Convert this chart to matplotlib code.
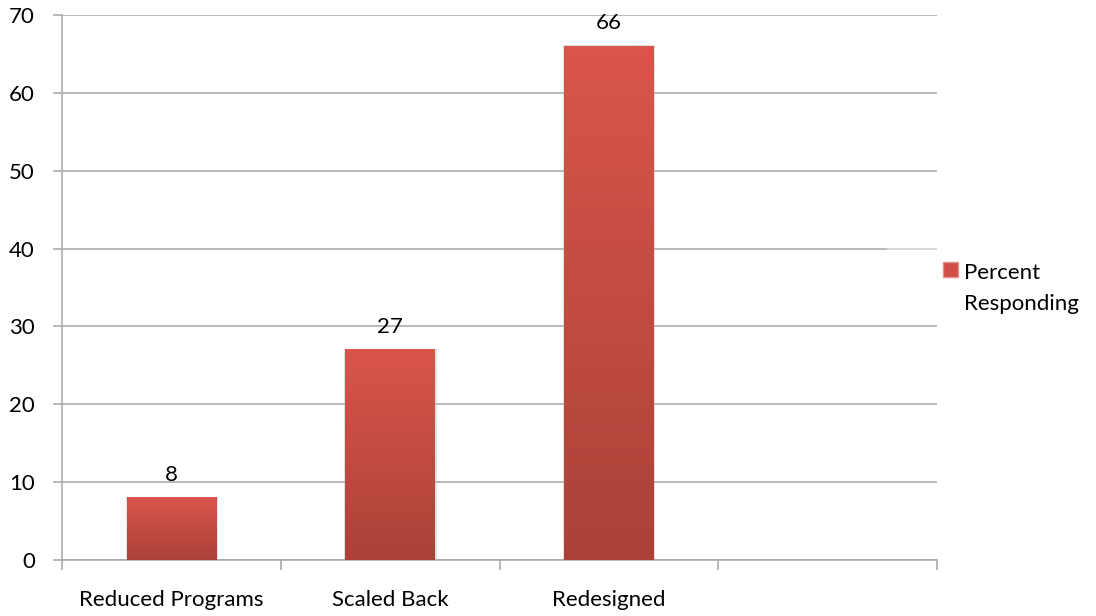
import matplotlib
matplotlib.use("Agg")
import matplotlib.pyplot as plt
import numpy as np
from matplotlib.patches import Rectangle

categories = ["Reduced Programs", "Scaled Back", "Redesigned", ""]
values = [8, 27, 66]
series_name = "Percent Responding"
y_ticks = [0, 10, 20, 30, 40, 50, 60, 70]

plt.rcParams["font.family"] = ["Lato", "DejaVu Sans"]
FS = 16
PX = 0.72  # points per pixel at 100 dpi

W, H = 1096, 616
fig = plt.figure(figsize=(W / 100, H / 100), dpi=100)
ax = fig.add_axes([62 / W, 1 - 560 / H, (937 - 62) / W, (560 - 15) / H])

top_col = np.array([0xDA, 0x55, 0x4C]) / 255
bot_col = np.array([0xAA, 0x42, 0x38]) / 255
grad = np.linspace(0, 1, 256)[:, None, None]
grad_img = top_col * (1 - grad) + bot_col * grad  # row 0 at top

bar_w = 0.41
x = np.arange(len(values))
bars = ax.bar(x, values, width=bar_w, color="none", edgecolor="none", zorder=3)
for b, v in zip(bars, values):
    x0 = b.get_x()
    # soft shadow around the bar
    ax.add_patch(Rectangle((x0 - 0.004, 0), bar_w + 0.012, v + 0.12, color="#bdbdbd",
                           alpha=0.45, zorder=2, lw=0))
    ax.imshow(grad_img, extent=(x0, x0 + bar_w, 0, v), aspect="auto", zorder=3,
              interpolation="bilinear")
    ax.annotate(f"{v}", (x0 + bar_w / 2, v), xytext=(0, 17 * PX), textcoords="offset points",
                ha="center", va="baseline", fontsize=FS, color="black")

ax.set_xlim(-0.5, len(categories) - 0.5)
ax.set_ylim(0, 70)
ax.set_yticks(y_ticks)
ax.set_yticklabels([str(t) for t in y_ticks], fontsize=FS)
ax.yaxis.grid(True, color="#a6a6a6", lw=1.1, zorder=0)
ax.set_axisbelow(True)
# legend frame edge crossing the 40 gridline
ax.axhline(40, xmin=(888 - 62) / 875, xmax=1, color="#e4e4e4", lw=1.1, zorder=1)

# category boundaries carry the tick marks; labels sit at the category centres
ax.set_xticks(np.arange(-0.5, len(categories), 1.0))
ax.set_xticklabels([])
ax.set_xticks(np.arange(len(categories)), minor=True)
ax.set_xticklabels(categories, minor=True, fontsize=FS)
ax.tick_params(axis="x", which="major", length=10 * PX, color="#a6a6a6", width=1.1)
ax.tick_params(axis="x", which="minor", length=0, pad=30 * PX)
ax.tick_params(axis="y", length=9 * PX, color="#a6a6a6", width=1.1, pad=18 * PX)

for s in ["top", "right"]:
    ax.spines[s].set_visible(False)
for s in ["left", "bottom"]:
    ax.spines[s].set_color("#a6a6a6")
    ax.spines[s].set_linewidth(1.1)

# legend: swatch plus two-line series name
fig.add_artist(Rectangle((943 / W, 1 - 277 / H), 15 / W, 15 / H, transform=fig.transFigure,
                         facecolor="#cf4f46", edgecolor="#e6918b", lw=1))
fig.text(964 / W, 1 - 279 / H, "Percent", fontsize=FS, ha="left", va="baseline")
fig.text(964 / W, 1 - 310 / H, "Responding", fontsize=FS, ha="left", va="baseline")

fig.savefig("out.png", dpi=100)
